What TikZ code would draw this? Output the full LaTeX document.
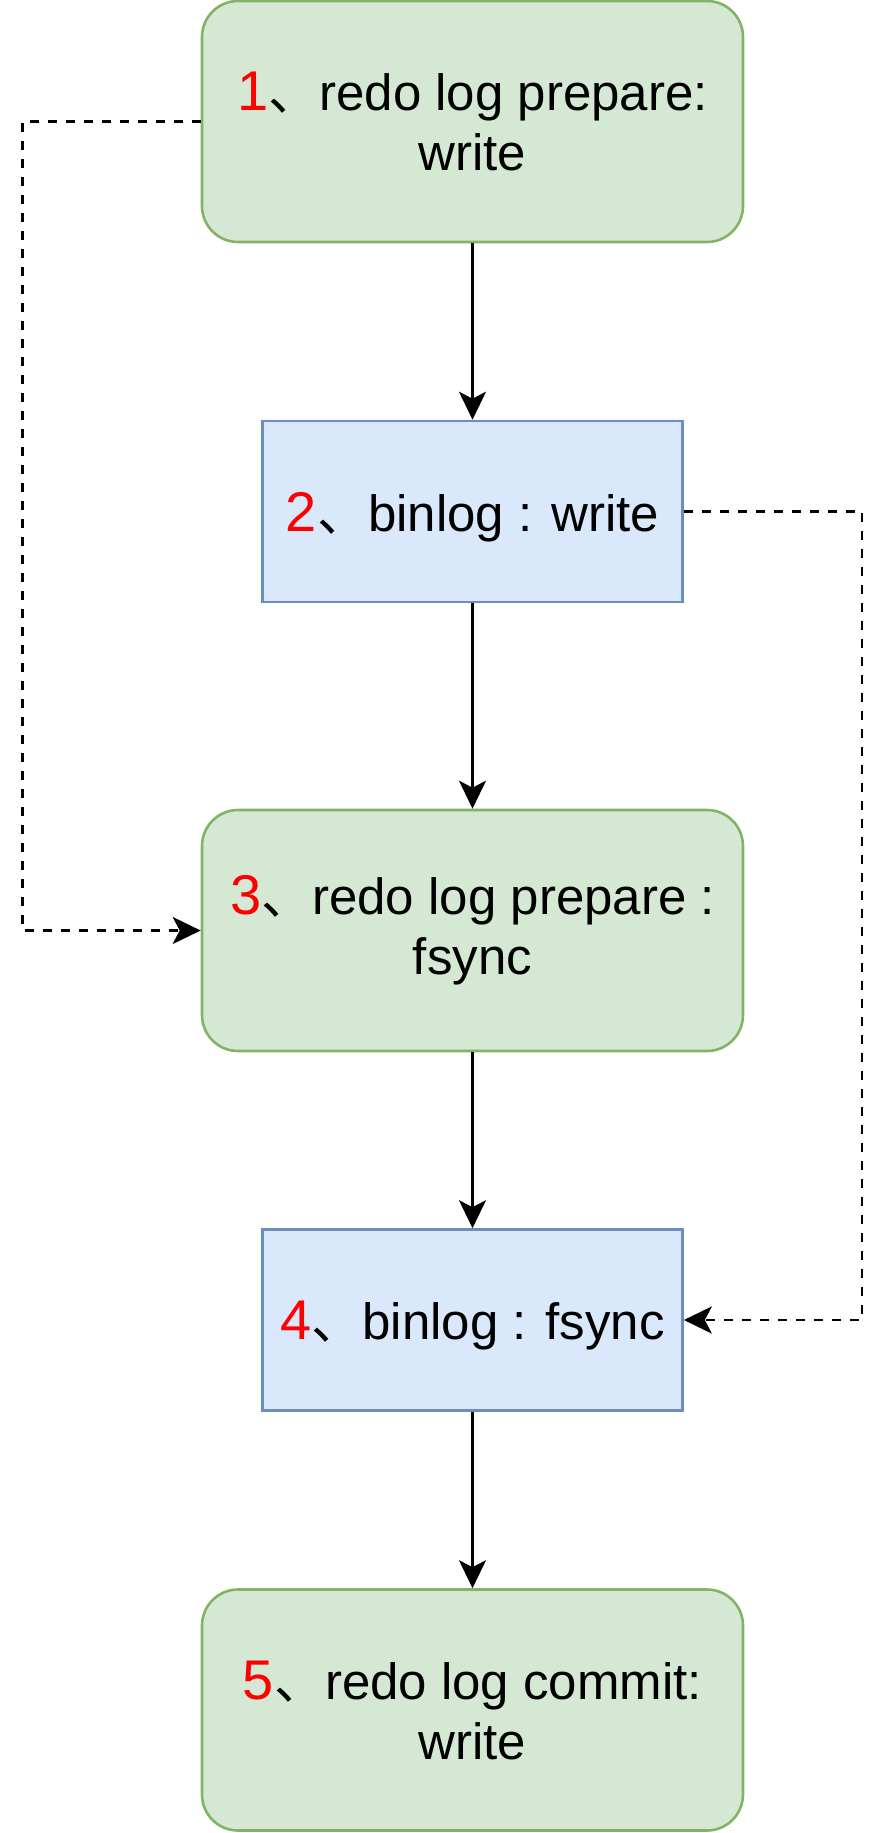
\documentclass[tikz,border=0pt]{standalone}
\usepackage{fontspec}
\setmainfont{Liberation Sans}
\newfontfamily\cjk{Noto Sans CJK SC}
\usepackage{tikz}
\usetikzlibrary{arrows.meta}

\definecolor{greenfill}{RGB}{213,232,212}
\definecolor{greenline}{RGB}{130,179,102}
\definecolor{bluefill}{RGB}{218,232,252}
\definecolor{blueline}{RGB}{108,142,191}
\newcommand{\stepno}[1]{{\fontsize{28pt}{30pt}\selectfont\color{red}#1}{\cjk 、}}

\tikzset{
  redobox/.style={draw=greenline, fill=greenfill, line width=1.3pt, rounded corners=18pt,
    minimum width=270.5pt, minimum height=120.5pt, align=center, inner sep=2pt,
    font=\fontsize{25.5pt}{30pt}\selectfont},
  binbox/.style={draw=blueline, fill=bluefill, line width=1.3pt,
    minimum width=210pt, minimum height=90.5pt, align=center, inner sep=2pt,
    text height=24.5pt, text depth=5pt,
    font=\fontsize{25.5pt}{30pt}\selectfont},
  flow/.style={line width=1.3pt, -{Stealth[length=14pt, width=13.5pt, inset=3.5pt]}},
  dashflow/.style={flow, dash pattern={on 4.5pt off 4.5pt}}
}

\begin{document}
\begin{tikzpicture}[x=0.5pt,y=0.5pt,yscale=-1,xscale=1]
\useasboundingbox (0,0) rectangle (888,1833);

%Rounded Rect
\node [redobox] (redowrite) at (472.5,121.5) {\stepno{1}redo log prepare:\\write};
%Rect
\node [binbox] (binwrite) at (472.5,511.5) {\stepno{2}binlog : write};
%Rounded Rect
\node [redobox] (redofsync) at (472.5,930.5) {\stepno{3}redo log prepare :\\fsync};
%Rect
\node [binbox] (binfsync) at (472.5,1320) {\stepno{4}binlog : fsync};
%Rounded Rect
\node [redobox] (redocommit) at (472.5,1710) {\stepno{5}redo log commit:\\write};

%Straight Lines
\draw [flow] (redowrite) -- (binwrite);
\draw [flow] (binwrite) -- (redofsync);
\draw [flow] (redofsync) -- (binfsync);
\draw [flow] (binfsync) -- (redocommit);

%Dashed Lines
\coordinate (leftside) at (22.5,0);
\coordinate (rightside) at (862,0);
\draw [dashflow] (redowrite.west) -- (redowrite.west -| leftside) -- (redofsync.west -| leftside) -- (redofsync.west);
\draw [dashflow] (binwrite.east) -- (binwrite.east -| rightside) -- (binfsync.east -| rightside) -- (binfsync.east);
\end{tikzpicture}
\end{document}
